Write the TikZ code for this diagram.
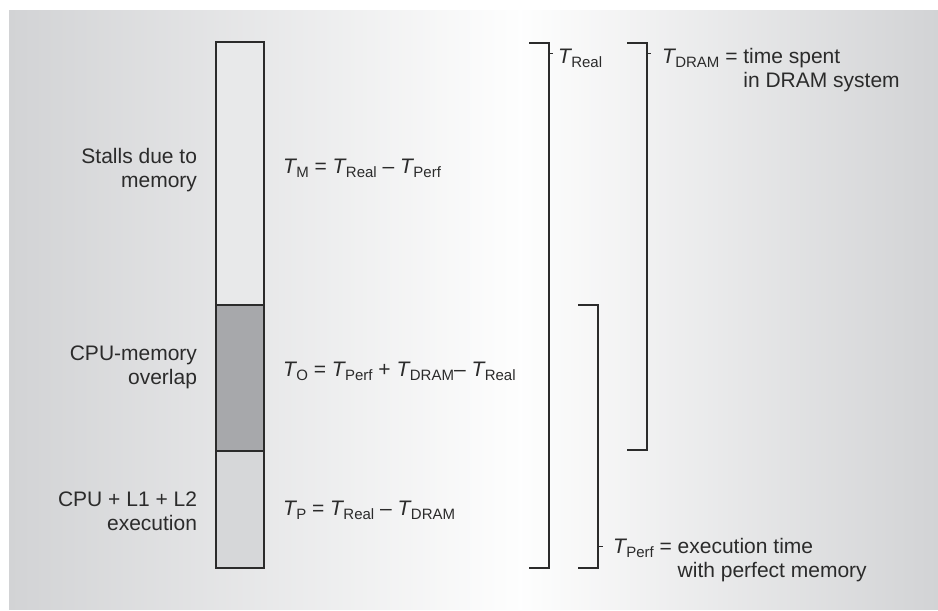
\documentclass[tikz,border=0pt]{standalone}
\usepackage{fontspec}
\setmainfont{Liberation Sans}
\definecolor{ink}{HTML}{2B2B2B}
\definecolor{edgegray}{HTML}{D2D3D5}
\definecolor{stallfill}{HTML}{E8E9EA}
\definecolor{overlapfill}{HTML}{A7A8AB}
\definecolor{execfill}{HTML}{D6D7D9}
% italic T with an upright, smaller, lowered subscript
\newcommand\Tv[1]{\textit{T}\kern-0.8pt\raisebox{-4pt}{\fontsize{15}{15}\selectfont #1}}
\begin{document}
\begin{tikzpicture}[x=1pt,y=-1pt,
  every node/.style={inner sep=0pt,outer sep=0pt,font=\fontsize{21}{24}\selectfont,text=ink},
  leftlabel/.style={anchor=base east},
  eqlabel/.style={anchor=base west},
  segment/.style={draw=ink,line width=1.2pt},
  bracket/.style={draw=ink,line width=1.2pt},
  tick/.style={draw=ink,line width=1pt}]
\useasboundingbox (0,0) rectangle (938,611);
% shaded panel, light in the middle
\shade[left color=edgegray,right color=white!97!edgegray] (9,10) rectangle (520,609);
\shade[left color=white!97!edgegray,right color=edgegray] (520,10) rectangle (938,609);

% stacked time bar
\coordinate (bartop) at (216,42);
\coordinate (barsplit1) at (264,305);
\coordinate (barsplit2) at (264,451);
\coordinate (barbot) at (264,568);
\filldraw[segment,fill=stallfill] (bartop) rectangle (barsplit1);
\filldraw[segment,fill=overlapfill] (216,305) rectangle (barsplit2);
\filldraw[segment,fill=execfill] (216,451) rectangle (barbot);

% segment names
\node[leftlabel] (stalls) at (197,163) {\begin{tabular}[t]{@{}r@{}}Stalls due to\\memory\end{tabular}};
\node[leftlabel] (overlap) at (197,360) {\begin{tabular}[t]{@{}r@{}}CPU-memory\\overlap\end{tabular}};
\node[leftlabel] (exec) at (197,506) {\begin{tabular}[t]{@{}r@{}}CPU + L1 + L2\\execution\end{tabular}};

% segment formulas
\node[eqlabel] (eqM) at (283,173) {\Tv{M} = \Tv{Real} – \Tv{Perf}};
\node[eqlabel] (eqO) at (283,376) {\Tv{O} = \Tv{Perf} + \Tv{DRAM}– \Tv{Real}};
\node[eqlabel] (eqP) at (283,515) {\Tv{P} = \Tv{Real} – \Tv{DRAM}};

% T_Real bracket
\coordinate (realA) at (529,43);
\coordinate (realB) at (549,43);
\coordinate (realC) at (549,568);
\coordinate (realD) at (529,568);
\coordinate (realT) at (553,53);
\draw[bracket] (realA) -- (realB) -- (realC) -- (realD);
\draw[tick] (549,53) -- (realT);
\node[eqlabel] (treal) at (558,63) {\Tv{Real}};

% T_DRAM bracket
\coordinate (dramA) at (627,43);
\coordinate (dramB) at (647,43);
\coordinate (dramC) at (647,450);
\coordinate (dramD) at (627,450);
\coordinate (dramT) at (651,53);
\draw[bracket] (dramA) -- (dramB) -- (dramC) -- (dramD);
\draw[tick] (647,53) -- (dramT);
\node[eqlabel] (tdram) at (662,63) {\Tv{DRAM} = \begin{tabular}[t]{@{}l@{}}time spent\\in DRAM system\end{tabular}};

% T_Perf bracket
\coordinate (perfA) at (578,305);
\coordinate (perfB) at (598,305);
\coordinate (perfC) at (598,568);
\coordinate (perfD) at (578,568);
\coordinate (perfT) at (603,546);
\draw[bracket] (perfA) -- (perfB) -- (perfC) -- (perfD);
\draw[tick] (598,546) -- (perfT);
\node[eqlabel] (tperf) at (613,553) {\Tv{Perf} = \begin{tabular}[t]{@{}l@{}}execution time\\with perfect memory\end{tabular}};
\end{tikzpicture}
\end{document}
